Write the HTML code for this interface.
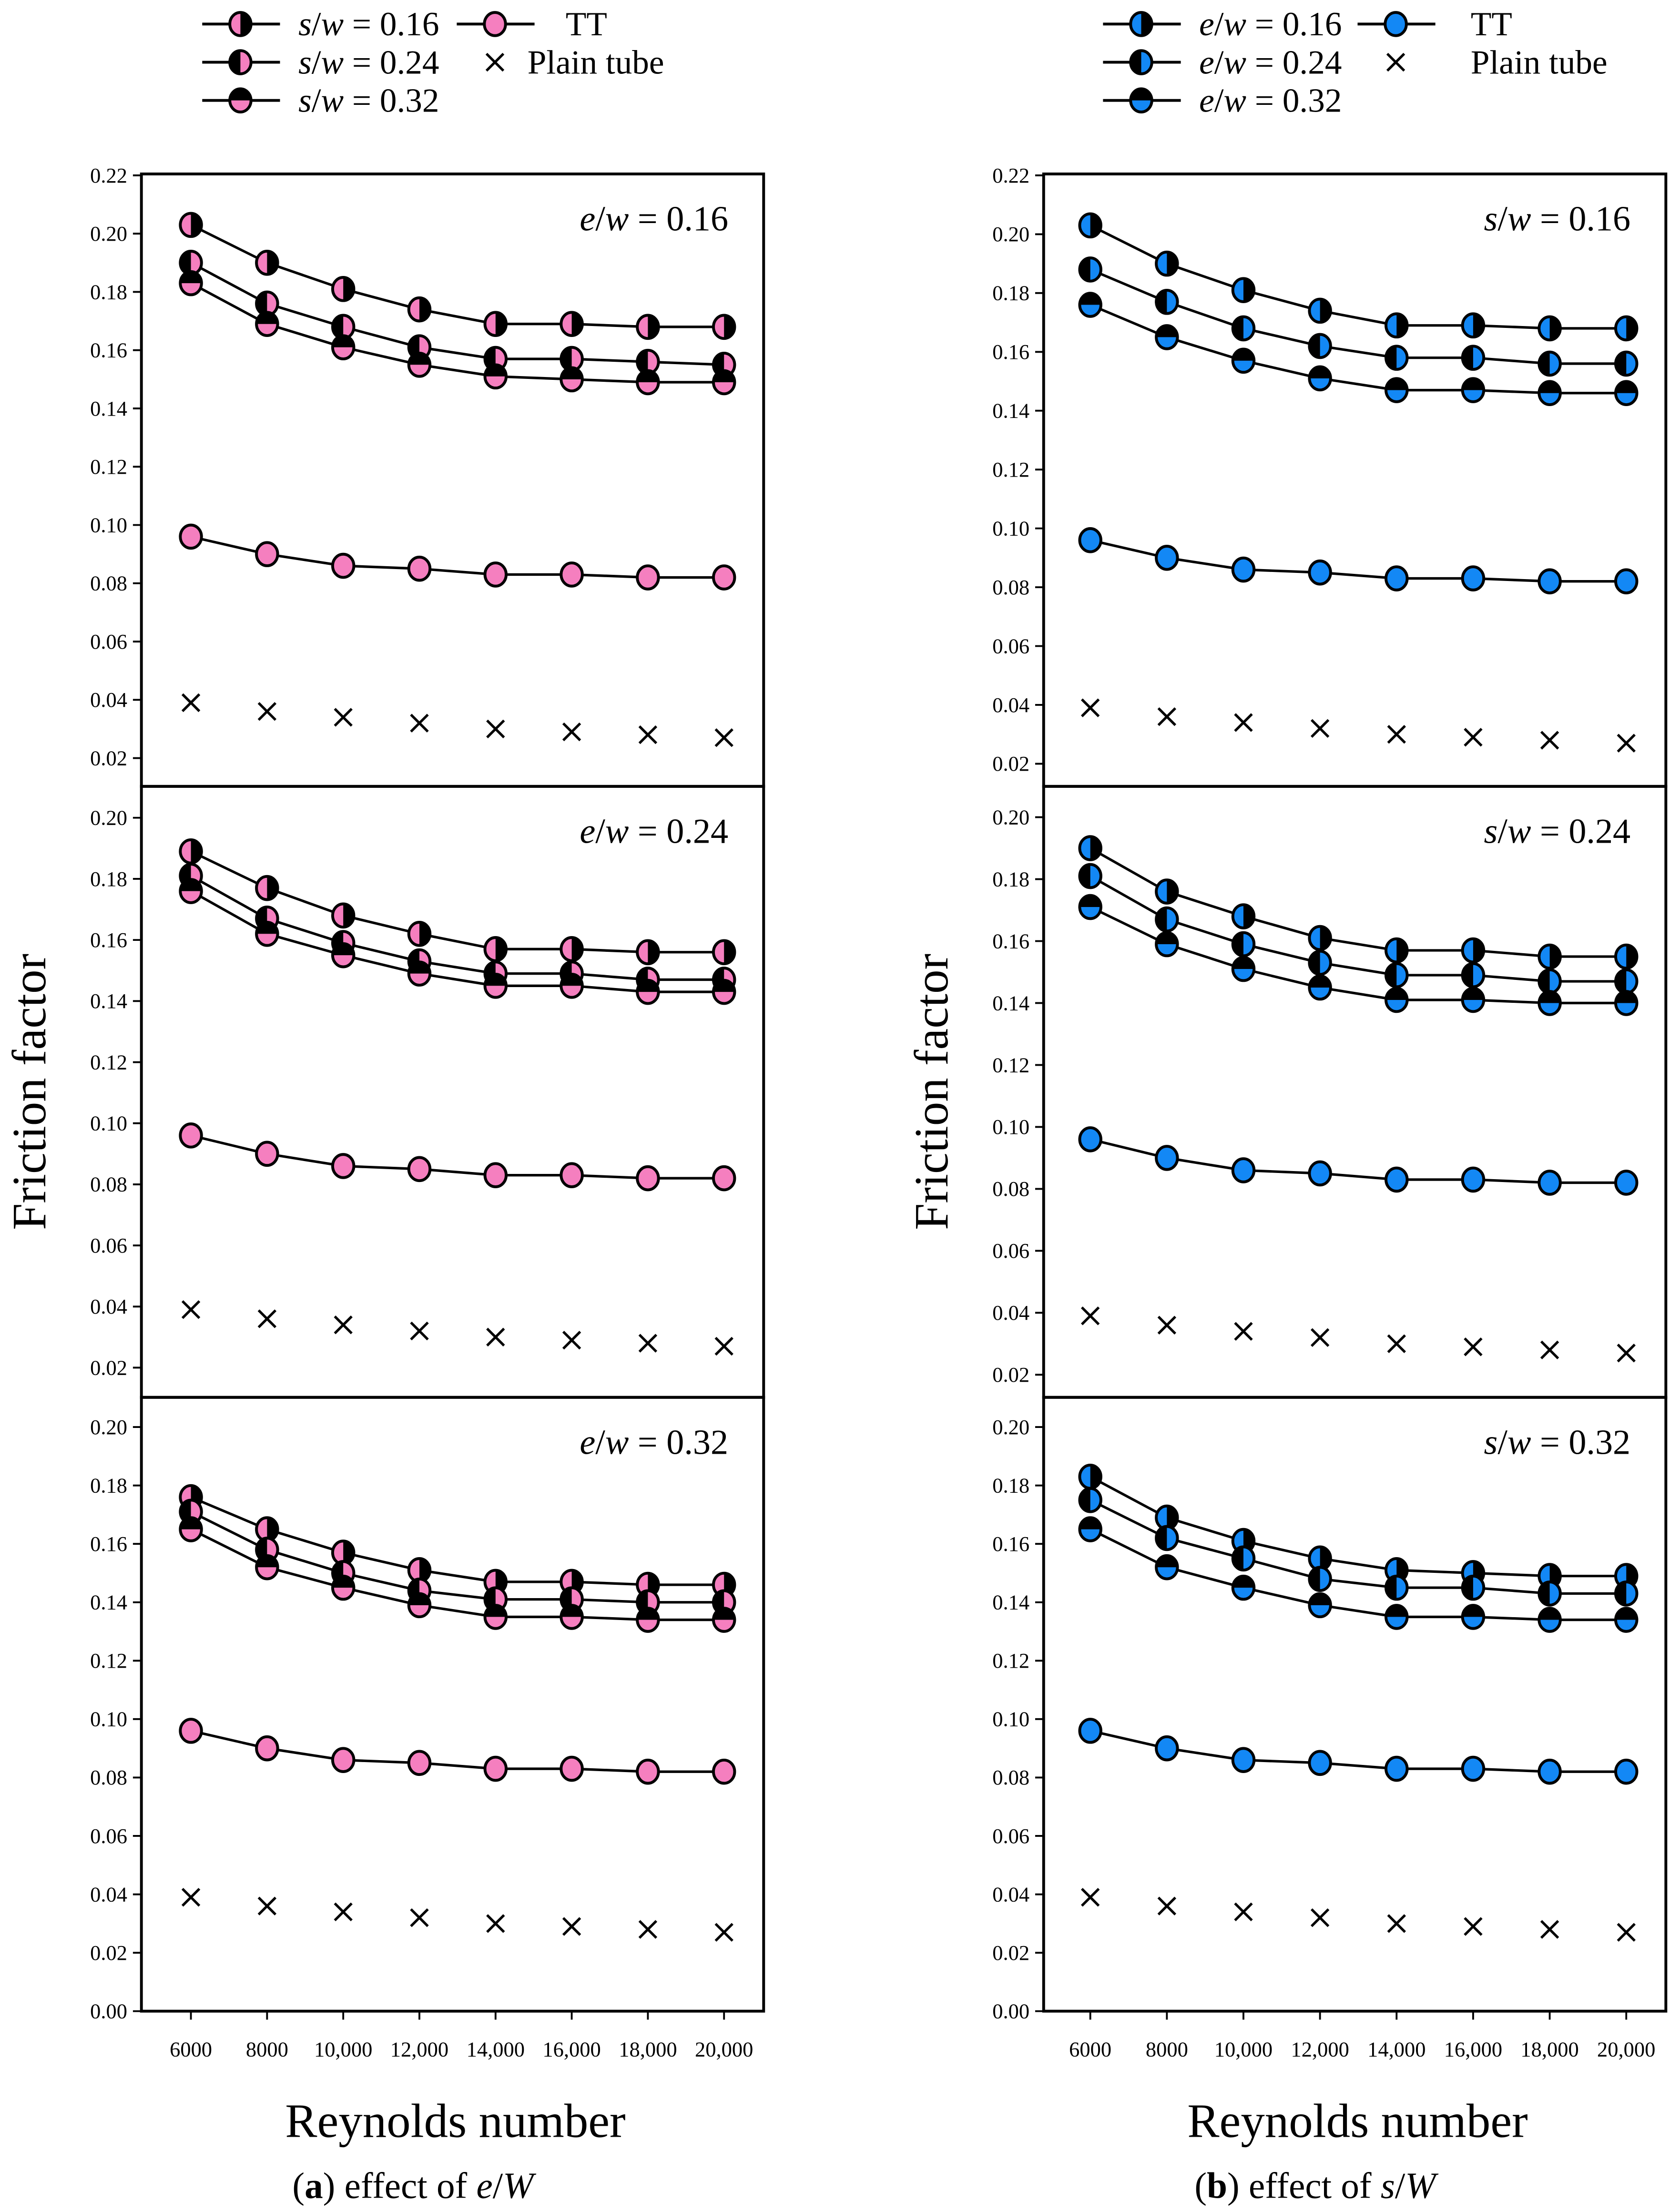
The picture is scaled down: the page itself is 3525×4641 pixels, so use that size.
<!DOCTYPE html>
<html><head><meta charset="utf-8">
<style>
html,body{margin:0;padding:0;background:#fff;}
svg{display:block;}
svg text{font-family:"Liberation Serif",serif;}
</style></head>
<body>
<svg id="fig" width="3525" height="4641" viewBox="0 0 1188 1564" preserveAspectRatio="none" xmlns="http://www.w3.org/2000/svg" font-family="Liberation Serif, serif">
<rect width="1188" height="1564" fill="#fff"/>
</svg>
<script>
const reynolds = [6000, 8000, 10000, 12000, 14000, 16000, 18000, 20000];
const xTickLabels = ["6000", "8000", "10,000", "12,000", "14,000", "16,000", "18,000", "20,000"];
const ttValues = [0.096, 0.090, 0.086, 0.085, 0.083, 0.083, 0.082, 0.082];
const plainValues = [0.039, 0.036, 0.034, 0.032, 0.030, 0.029, 0.028, 0.027];
// left column: effect of e/W (series s/w = 0.16, 0.24, 0.32)
const leftTop16 = [0.203, 0.190, 0.181, 0.174, 0.169, 0.169, 0.168, 0.168];
const leftTop24 = [0.190, 0.176, 0.168, 0.161, 0.157, 0.157, 0.156, 0.155];
const leftTop32 = [0.183, 0.169, 0.161, 0.155, 0.151, 0.150, 0.149, 0.149];
const leftMid16 = [0.189, 0.177, 0.168, 0.162, 0.157, 0.157, 0.156, 0.156];
const leftMid24 = [0.181, 0.167, 0.159, 0.153, 0.149, 0.149, 0.147, 0.147];
const leftMid32 = [0.176, 0.162, 0.155, 0.149, 0.145, 0.145, 0.143, 0.143];
const leftBot16 = [0.176, 0.165, 0.157, 0.151, 0.147, 0.147, 0.146, 0.146];
const leftBot24 = [0.171, 0.158, 0.150, 0.144, 0.141, 0.141, 0.140, 0.140];
const leftBot32 = [0.165, 0.152, 0.145, 0.139, 0.135, 0.135, 0.134, 0.134];
// right column: effect of s/W (series e/w = 0.16, 0.24, 0.32)
const rightTop16 = [0.203, 0.190, 0.181, 0.174, 0.169, 0.169, 0.168, 0.168];
const rightTop24 = [0.188, 0.177, 0.168, 0.162, 0.158, 0.158, 0.156, 0.156];
const rightTop32 = [0.176, 0.165, 0.157, 0.151, 0.147, 0.147, 0.146, 0.146];
const rightMid16 = [0.190, 0.176, 0.168, 0.161, 0.157, 0.157, 0.155, 0.155];
const rightMid24 = [0.181, 0.167, 0.159, 0.153, 0.149, 0.149, 0.147, 0.147];
const rightMid32 = [0.171, 0.159, 0.151, 0.145, 0.141, 0.141, 0.140, 0.140];
const rightBot16 = [0.183, 0.169, 0.161, 0.155, 0.151, 0.150, 0.149, 0.149];
const rightBot24 = [0.175, 0.162, 0.155, 0.148, 0.145, 0.145, 0.143, 0.143];
const rightBot32 = [0.165, 0.152, 0.145, 0.139, 0.135, 0.135, 0.134, 0.134];
const topTicks = [0.02, 0.04, 0.06, 0.08, 0.10, 0.12, 0.14, 0.16, 0.18, 0.20, 0.22];
const midTicks = [0.02, 0.04, 0.06, 0.08, 0.10, 0.12, 0.14, 0.16, 0.18, 0.20];
const botTicks = [0.00, 0.02, 0.04, 0.06, 0.08, 0.10, 0.12, 0.14, 0.16, 0.18, 0.20];

const NS = "http://www.w3.org/2000/svg";
const svg = document.getElementById("fig");
function mk(tag, attrs, parent) {
  const e = document.createElementNS(NS, tag);
  for (const k in attrs) e.setAttribute(k, attrs[k]);
  if (tag === "text") e.setAttribute("font-family", "Liberation Serif, serif");
  (parent || svg).appendChild(e);
  return e;
}
const PINK = "#f57fbf", BLUE = "#1388f5";

function marker(g, cx, cy, type, color, name) {
  const rx = 7.5, ry = 8.2;
  const m = mk("g", {}, g);
  
  
  mk("ellipse", {cx, cy, rx, ry, fill: type === "tt" ? color : "#000"}, m);
  if (type === "a") mk("path", {d: `M${cx},${cy-ry} A${rx},${ry} 0 0 0 ${cx},${cy+ry} Z`, fill: color}, m);
  if (type === "b") mk("path", {d: `M${cx},${cy-ry} A${rx},${ry} 0 0 1 ${cx},${cy+ry} Z`, fill: color}, m);
  if (type === "c") mk("path", {d: `M${cx-rx},${cy} A${rx},${ry} 0 0 0 ${cx+rx},${cy} Z`, fill: color}, m);
  mk("ellipse", {cx, cy, rx, ry, fill: "none", stroke: "#000", "stroke-width": 2}, m);
}
function cross(g, cx, cy, name) {
  const c = mk("path", {d: `M${cx-6},${cy-6}L${cx+6},${cy+6}M${cx+6},${cy-6}L${cx-6},${cy+6}`, stroke: "#000", "stroke-width": 1.8, fill: "none"}, g);
  
  
}

function panel(opt) {
  const g = mk("g", {});
  
  
  const xs = v => opt.x0 + (v - 6000) / 14000 * (opt.x1 - opt.x0);
  const ys = v => opt.yRef - (v - opt.vRef) / 0.02 * opt.step;
  opt.ticks.forEach(t => {
    const y = ys(t);
    mk("line", {x1: opt.left - 6, x2: opt.left, y1: y, y2: y, stroke: "#000", "stroke-width": 1.3}, g);
    const tl = mk("text", {x: opt.left - 10, y: y + 5, "font-size": 15, "text-anchor": "end"}, g);
    tl.textContent = t.toFixed(2);
    
    
  });
  const series = [[opt.s16, "a"], [opt.s24, "b"], [opt.s32, "c"], [ttValues, "tt"]];
  series.forEach(([vals, type]) => {
    const pts = vals.map((v, i) => `${xs(reynolds[i])},${ys(v)}`).join(" ");
    const pl = mk("polyline", {points: pts, fill: "none", stroke: "#000", "stroke-width": 1.8}, g);
    
    
  });
  series.forEach(([vals, type]) => {
    vals.forEach((v, i) => marker(g, xs(reynolds[i]), ys(v), type, opt.color, 'point-' + type));
  });
  plainValues.forEach((v, i) => cross(g, xs(reynolds[i]), ys(v), 'plain-tube-point'));
  const lab = mk("text", {x: opt.left + 415, y: opt.top + 40, "font-size": 25, "text-anchor": "end"}, g);
  lab.innerHTML = `<tspan font-style="italic">${opt.v1}</tspan>/<tspan font-style="italic">w</tspan> = ${opt.v2}`;
  
  
  const fr = mk("rect", {x: opt.left, y: opt.top, width: 440, height: opt.bottom - opt.top, fill: "none", stroke: "#000", "stroke-width": 2}, g);
  
  
}

function column(c) {
  const L = c.left, x0 = c.x0, x1 = c.x1;
  panel({name: c.prefix + "-top-panel", left: L, top: 123, bottom: 556, x0, x1, yRef: c.topRef, vRef: 0.02, step: c.topStep, ticks: topTicks, s16: c.d[0], s24: c.d[1], s32: c.d[2], color: c.color, v1: c.inset, v2: "0.16"});
  panel({name: c.prefix + "-middle-panel", left: L, top: 556, bottom: 988, x0, x1, yRef: c.midRef, vRef: 0.02, step: c.midStep, ticks: midTicks, s16: c.d[3], s24: c.d[4], s32: c.d[5], color: c.color, v1: c.inset, v2: "0.24"});
  panel({name: c.prefix + "-bottom-panel", left: L, top: 988, bottom: 1422, x0, x1, yRef: 1422, vRef: 0.0, step: 41.3, ticks: botTicks, s16: c.d[6], s24: c.d[7], s32: c.d[8], color: c.color, v1: c.inset, v2: "0.32"});
  reynolds.forEach((r, i) => {
    const x = x0 + (r - 6000) / 14000 * (x1 - x0);
    mk("line", {x1: x, x2: x, y1: 1422, y2: 1428, stroke: "#000", "stroke-width": 1.3});
    const t = mk("text", {x, y: 1454, "font-size": 15, "text-anchor": "middle"});
    t.textContent = xTickLabels[i];
    
    
  });
  const xt = mk("text", {x: L + 222, y: 1511, "font-size": 34, "text-anchor": "middle"});
  xt.textContent = "Reynolds number";
  
  
  const yt = mk("text", {x: 0, y: 0, "font-size": 34, "text-anchor": "middle", transform: `translate(${L - 68},772) rotate(-90)`});
  yt.textContent = "Friction factor";
  
  
  const cap = mk("text", {x: L + 192, y: 1554, "font-size": 26, "text-anchor": "middle"});
  cap.innerHTML = c.caption;
  
  
  const lg = mk("g", {});
  
  
  const rows = [["a", "0.16", 17], ["b", "0.24", 44], ["c", "0.32", 71]];
  rows.forEach(([t, v, y]) => {
    mk("line", {x1: c.lx, x2: c.lx + 55, y1: y, y2: y, stroke: "#000", "stroke-width": 2}, lg);
    marker(lg, c.lx + 27, y, t, c.color, 'legend-marker');
    const tx = mk("text", {x: c.lx + 68, y: y + 8, "font-size": 24}, lg);
    tx.innerHTML = `<tspan font-style="italic">${c.legVar}</tspan>/<tspan font-style="italic">w</tspan> = ${v}`;
    
    
  });
  const tx2 = c.lx + 180;
  mk("line", {x1: tx2, x2: tx2 + 55, y1: 17, y2: 17, stroke: "#000", "stroke-width": 2}, lg);
  marker(lg, tx2 + 27, 17, "tt", c.color, 'legend-marker');
  const ttt = mk("text", {x: c.ttX, y: 25, "font-size": 24}, lg);
  ttt.textContent = "TT";
  
  
  cross(lg, tx2 + 27, 44, 'legend-marker');
  const pt = mk("text", {x: c.ptX, y: 52, "font-size": 24}, lg);
  pt.textContent = "Plain tube";
  
  
}

column({prefix: "left", left: 100, x0: 135, x1: 512, topRef: 536, topStep: 41.2, midRef: 967, midStep: 43.2,
  d: [leftTop16, leftTop24, leftTop32, leftMid16, leftMid24, leftMid32, leftBot16, leftBot24, leftBot32],
  color: PINK, inset: "e", legVar: "s", lx: 143, ttX: 400, ptX: 373,
  caption: '(<tspan font-weight="bold">a</tspan>) effect of <tspan font-style="italic">e</tspan>/<tspan font-style="italic">W</tspan>'});
column({prefix: "right", left: 738, x0: 771, x1: 1150, topRef: 540, topStep: 41.6, midRef: 972, midStep: 43.8,
  d: [rightTop16, rightTop24, rightTop32, rightMid16, rightMid24, rightMid32, rightBot16, rightBot24, rightBot32],
  color: BLUE, inset: "s", legVar: "e", lx: 780, ttX: 1040, ptX: 1040,
  caption: '(<tspan font-weight="bold">b</tspan>) effect of <tspan font-style="italic">s</tspan>/<tspan font-style="italic">W</tspan>'});
</script>
</body></html>
